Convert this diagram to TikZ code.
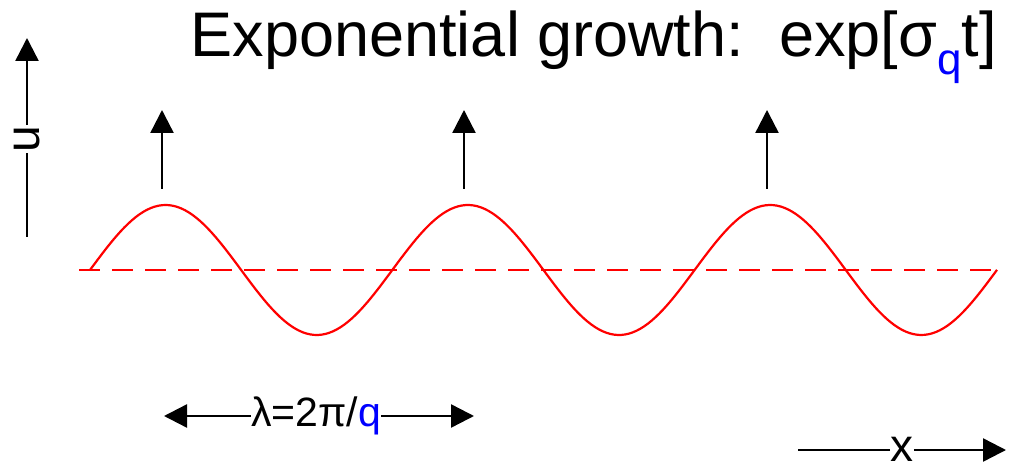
\documentclass[tikz,border=0pt]{standalone}
\usepackage{fontspec}
\setmainfont{Liberation Sans}
\usepackage{xcolor}
\usetikzlibrary{arrows.meta,positioning}

\tikzset{
  axisline/.style={line width=1.2pt,-{Triangle[length=11.5pt,width=11.5pt]}},
  growarrow/.style={line width=1.2pt,-{Triangle[length=11.5pt,width=11.5pt]}},
  lbl/.style={inner sep=0pt,font=\fontsize{24pt}{24pt}\selectfont}
}

\begin{document}
\begin{tikzpicture}[x=0.5pt,y=-0.5pt]
\useasboundingbox (0,0) rectangle (1010,469);
% title
\node[lbl,anchor=base east,font=\fontsize{31.5pt}{31.5pt}\selectfont] (title) at (997,57)
  {Exponential growth:\ \ exp[σ\textcolor{blue}{\raisebox{-9pt}{\fontsize{22pt}{22pt}\selectfont q}}t]};
% u axis
\node[lbl,rotate=90] (u) at (27,139) {u};
\coordinate (ubot) at (27,237);
\coordinate (utop) at (27,38);
\draw[line width=1.2pt] (ubot) -- (u);
\draw[axisline] (u) -- (utop);
% baseline and wave
\coordinate (b0) at (79,270);
\coordinate (b1) at (998,270);
\draw[red,line width=1.1pt,dash pattern=on 10.5pt off 6pt] (b0) -- (b1);
\draw[red,line width=1.1pt] plot[domain=90:997,samples=240] (\x,{270-65*sin((\x-90)/302.3*360)});
% growth arrows
\foreach \xp [count=\i] in {162,464,767} {
  \coordinate (a\i) at (\xp,189);
  \coordinate (t\i) at (\xp,110);
  \draw[growarrow] (a\i) -- (t\i);
}
% wavelength
\node[lbl,font=\fontsize{20.5pt}{20.5pt}\selectfont] (lam) at (316,416) {λ=2π/\textcolor{blue}{q}};
\coordinate (lamL) at (164,416);
\coordinate (lamR) at (474,416);
\draw[growarrow] (lam) -- (lamL);
\draw[growarrow] (lam) -- (lamR);
% x axis
\node[lbl,font=\fontsize{23pt}{23pt}\selectfont] (x) at (902,449) {x};
\coordinate (xL) at (798,450);
\coordinate (xR) at (1006,450);
\draw[line width=1.2pt] (x.west |- xL) -- (xL);
\draw[axisline] (x.east |- xR) -- (xR);
\end{tikzpicture}
\end{document}
